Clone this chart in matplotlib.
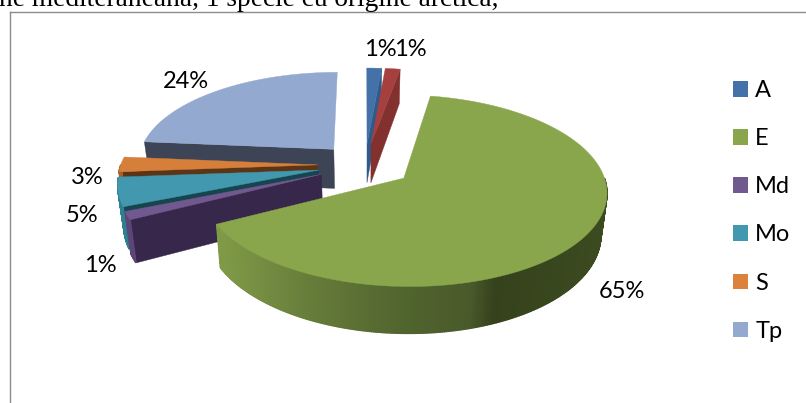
import numpy as np
import matplotlib
matplotlib.use("Agg")
import matplotlib.pyplot as plt
from matplotlib.patches import Patch

plt.rcParams['font.family'] = ['Lato', 'DejaVu Sans']

# percent shares (labels are rounded)
slice_names = ["A", "", "E", "Md", "Mo", "S", "Tp"]
slice_values = [1.4, 1.4, 64.6, 1.4, 5.0, 2.6, 23.6]
legend_names = ["A", "E", "Md", "Mo", "S", "Tp"]

top_colors = ["#4472a8", "#a5403e", "#8aa64c", "#71588f", "#4198af", "#d67f3b", "#93a9cf"]
face_colors = ["#2f5a8c", "#83312f", "#5f7a35", "#37274a", "#17454f", "#5c3416", "#3c4456"]
rim_colors = ["#2f5a8c", "#83312f", None, "#5c4678", "#2f7f92", "#a5602a", "#3c4456"]
legend_colors = ["#4472a8", "#8aa64c", "#71588f", "#4198af", "#dc823c", "#95a9d0"]

# label centres in pixels
label_pos = [(380, 49), (410, 49), (622, 291), (100, 266), (82, 216), (87, 177), (186, 82)]

# the fake 3d view
cx, cy = 365, 165
R = 197
K = 90.7
P = 0.129
EXPLODE = 0.24
DEPTH = 40
SHRINK = 0.025

# green rim shading along x
GRAD_X = [222, 310, 400, 470, 495, 610]
GRAD_R = [0x7f, 0x66, 0x51, 0x4a, 0x35, 0x3c]
GRAD_G = [0x9a, 0x7c, 0x65, 0x5a, 0x42, 0x4b]
GRAD_B = [0x47, 0x3a, 0x2e, 0x2b, 0x1c, 0x20]


def project(u, v, down=0):
    s = 1 / (1 + P * v)
    return cx + R * u * s * (1 - SHRINK * down), cy - K * v * s + DEPTH * s * down


def slice_outline(a0, a1):
    mid = np.radians((a0 + a1) / 2)
    du, dv = EXPLODE * np.sin(mid), EXPLODE * np.cos(mid)
    th = np.radians(np.linspace(a0, a1, max(int(a1 - a0) * 2, 4)))
    return du, dv, du + np.sin(th), dv + np.cos(th), th


def draw_face(u_in, v_in, u_out, v_out, color, z):
    x0, y0 = project(u_in, v_in)
    x1, y1 = project(u_out, v_out)
    x2, y2 = project(u_out, v_out, 1)
    x3, y3 = project(u_in, v_in, 1)
    ax.fill([x0, x1, x2, x3], [y0, y1, y2, y3], color=color, lw=0.3, zorder=z)


fig = plt.figure(figsize=(8.06, 4.03), dpi=100)
ax = fig.add_axes([0, 0, 1, 1])
ax.set_xlim(0, 806)
ax.set_ylim(403, 0)
ax.axis("off")

# frame of the embedded chart and the cut off line of the page above it
ax.plot([9.8, 9.8], [403, 11.6], color="#8c8c8c", lw=1)
ax.plot([9.8, 806], [11.6, 11.6], color="#8c8c8c", lw=1)
ax.text(-1, 6.5, "ne mediteraneană, 1 specie cu origine arctică,", family="Liberation Serif",
        fontsize=19.7, color="black", va="baseline", ha="left")

edges = np.cumsum([0] + slice_values) * 3.6
order = [6, 0, 1, 5, 4, 3, 2]  # back to front

for n, i in enumerate(order):
    a0, a1 = edges[i], edges[i + 1]
    du, dv, us, vs, th = slice_outline(a0, a1)
    z = n * 3

    # cut faces, only the ones turned to the viewer
    if np.cos(np.radians(a0 - 90)) < -0.01:
        draw_face(du, dv, us[0], vs[0], face_colors[i], z + 1)
    if np.cos(np.radians(a1 + 90)) < -0.01:
        draw_face(du, dv, us[-1], vs[-1], face_colors[i], z + 1)

    # outer rim, strip by strip, front half only
    xt, yt = project(us, vs)
    xb, yb = project(us, vs, 1)
    for j in range(len(xt) - 1):
        if np.cos(th[j]) + np.cos(th[j + 1]) > 0:
            continue
        if rim_colors[i] is None:
            mx = (xt[j] + xt[j + 1]) / 2
            col = tuple(np.interp(mx, GRAD_X, c) / 255 for c in (GRAD_R, GRAD_G, GRAD_B))
        else:
            col = rim_colors[i]
        ax.fill([xt[j], xt[j + 1], xb[j + 1], xb[j]], [yt[j], yt[j + 1], yb[j + 1], yb[j]],
                facecolor=col, edgecolor=col, lw=1.0, zorder=z + 2)

    # top
    xv, yv = project(du, dv)
    ax.fill(np.r_[xv, xt], np.r_[yv, yt], color=top_colors[i], lw=0.3, zorder=z + 3)

for val, pos in zip(slice_values, label_pos):
    ax.text(pos[0], pos[1], f"{round(val)}%", fontsize=17, ha="center", va="center", color="black", zorder=50)

handles = [Patch(facecolor=c, edgecolor="none") for c in legend_colors]
ax.legend(handles, legend_names, loc="upper left", bbox_to_anchor=(733 / 806, 1 - 80 / 403),
          frameon=False, fontsize=17, handlelength=0.64, handleheight=0.64,
          handletextpad=0.3, labelspacing=1.15, borderpad=0, borderaxespad=0)

fig.savefig("out.png", dpi=100)
